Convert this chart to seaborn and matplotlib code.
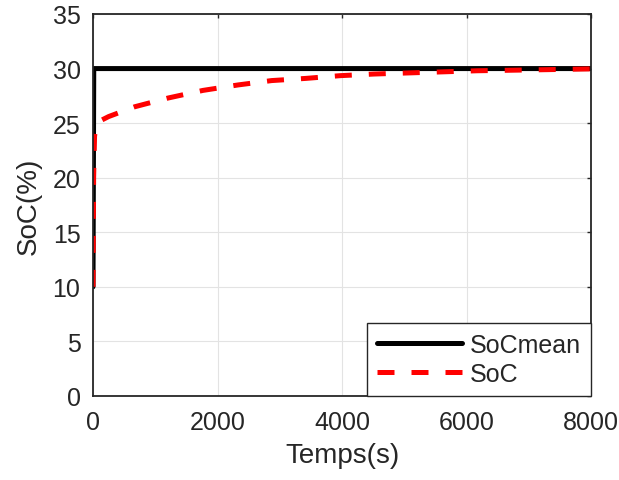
import matplotlib
matplotlib.use("Agg")
import matplotlib.pyplot as plt
import seaborn as sns
import pandas as pd

# Data
t_mean = [0, 12, 8000]
soc_mean = [10, 30, 30]

t_soc = [0, 10, 25, 45, 70, 112, 250, 670, 1205, 1767, 2330, 2870, 3420, 3970,
         4515, 5060, 5620, 6170, 6730, 7280, 7800, 8000]
soc = [10, 20, 23.8, 24.6, 25.0, 25.2, 25.6, 26.5, 27.3, 28.0, 28.5, 28.9, 29.1, 29.35,
       29.5, 29.6, 29.7, 29.8, 29.85, 29.9, 29.95, 29.97]

x_ticks = [0, 2000, 4000, 6000, 8000]
y_ticks = [0, 5, 10, 15, 20, 25, 30, 35]

sns.set_style("white")
plt.rcParams['font.family'] = ['Liberation Sans', 'DejaVu Sans']

fig = plt.figure(figsize=(6.19, 4.81), dpi=100)
ax = fig.add_axes([93/619, 1-397/481, (591-93)/619, (397-15)/481])

df_mean = pd.DataFrame({"t": t_mean, "v": soc_mean})
df_soc = pd.DataFrame({"t": t_soc, "v": soc})

sns.lineplot(data=df_mean, x="t", y="v", ax=ax, color="black", linewidth=3.6,
             label="SoCmean", solid_joinstyle="miter")
sns.lineplot(data=df_soc, x="t", y="v", ax=ax, color="#ff0000", linewidth=3.6,
             label="SoC")
ax.lines[1].set_linestyle((0, (3.4, 3.4)))

ax.set_xlim(0, 8000)
ax.set_ylim(0, 35)
ax.set_xticks(x_ticks)
ax.set_yticks(y_ticks)
ax.grid(True, color="#e3e3e3", linewidth=0.8)
ax.set_axisbelow(True)

for s in ax.spines.values():
    s.set_color("#262626")
    s.set_linewidth(1.3)

ax.tick_params(axis="both", direction="in", length=3, width=1, colors="#262626",
               labelsize=18, top=True, right=True)
ax.tick_params(axis="y", pad=9)
ax.tick_params(axis="x", pad=10)
ax.set_xlabel("Temps(s)", fontsize=20, color="#262626", labelpad=6)
ax.set_ylabel("SoC(%)", fontsize=20, color="#262626", labelpad=8)

leg = ax.legend(loc="lower right", fontsize=18, frameon=True, fancybox=False,
                borderaxespad=0.0, handlelength=3.4, handletextpad=0.32,
                borderpad=0.4, labelspacing=0.2)
leg.get_frame().set_edgecolor("#262626")
leg.get_frame().set_linewidth(1.0)
leg.get_frame().set_alpha(1)
leg.get_lines()[1].set_linestyle((0, (3.4, 3.4)))

fig.savefig("out.png", dpi=100)
